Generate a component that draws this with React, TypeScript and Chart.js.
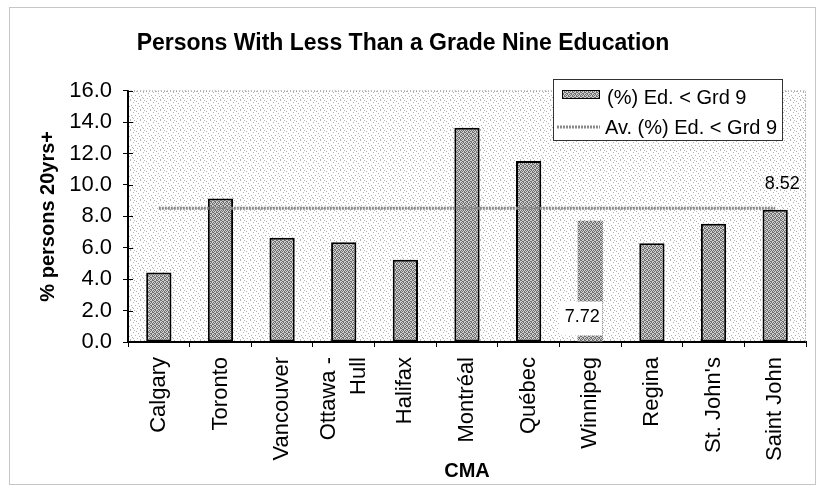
import React, { useEffect, useRef } from 'react';
import { Chart, registerables } from 'chart.js';

Chart.register(...registerables);

// Census metropolitan areas (CMA) and share of persons 20+ with less than grade 9
const cities: (string | string[])[] = [
  'Calgary',
  'Toronto',
  'Vancouver',
  ['Ottawa -', 'Hull'],
  'Halifax',
  'Montréal',
  'Québec',
  'Winnipeg',
  'Regina',
  "St. John's",
  'Saint John',
];
const pctBelowGrade9 = [4.42, 9.13, 6.63, 6.35, 5.23, 13.64, 11.52, 7.72, 6.29, 7.52, 8.41];
const averagePct = [8.52, 8.52, 8.52, 8.52, 8.52, 8.52, 8.52, 8.52, 8.52, 8.52, 8.52];

const yMin = 0;
const yMax = 16;
const yStep = 2;

const chartTitle = 'Persons With Less Than a Grade Nine Education';
const yTitle = '% persons 20yrs+';
const xTitle = 'CMA';
const seriesNames = ['(%) Ed. < Grd 9', 'Av. (%) Ed. < Grd 9'];

const FONT = "'Liberation Sans', Arial, Helvetica, sans-serif";
const SPLIT_INDEX = 3; // the two-line category label
const LABELLED_BAR = 7; // bar whose value label sits at its base

function makeTexture(
  ctx: CanvasRenderingContext2D,
  size: number,
  bg: string,
  ink: string,
  dots: number[][]
): CanvasPattern | string {
  const tile = document.createElement('canvas');
  tile.width = size;
  tile.height = size;
  const g = tile.getContext('2d');
  if (!g) return bg;
  g.fillStyle = bg;
  g.fillRect(0, 0, size, size);
  g.fillStyle = ink;
  for (const [x, y] of dots) g.fillRect(x, y, 1, 1);
  return ctx.createPattern(tile, 'repeat') || bg;
}

export default function App() {
  const canvasRef = useRef<HTMLCanvasElement | null>(null);

  useEffect(() => {
    const canvas = canvasRef.current;
    if (!canvas) return;
    const ctx0 = canvas.getContext('2d');
    if (!ctx0) return;

    // stippled fills for bars and the plot background
    const barFill = makeTexture(ctx0, 4, '#d0d0d0', '#6e6e6e', [
      [0, 0], [1, 0], [3, 1], [2, 1], [1, 2], [0, 3], [2, 3], [3, 2],
    ]);
    const plotFill = makeTexture(ctx0, 10, '#ffffff', '#b4b4b4', [
      [0, 0], [6, 1], [3, 2], [8, 3], [1, 5], [5, 5], [9, 6], [3, 8], [7, 8], [0, 9], [4, 0], [2, 7],
    ]);

    const decorations = {
      id: 'decorations',
      beforeDraw(chart: any) {
        const { ctx, chartArea: a } = chart;
        ctx.save();
        ctx.fillStyle = plotFill;
        ctx.fillRect(a.left, a.top, a.right - a.left, a.bottom - a.top);
        ctx.restore();
      },
      afterDatasetsDraw(chart: any) {
        const { ctx, chartArea: a } = chart;
        ctx.save();

        // dotted plot-area border (top and right)
        ctx.strokeStyle = '#7a7a7a';
        ctx.lineWidth = 1;
        ctx.setLineDash([1, 2]);
        ctx.beginPath();
        ctx.moveTo(a.left, a.top + 0.5);
        ctx.lineTo(a.right - 0.5, a.top + 0.5);
        ctx.lineTo(a.right - 0.5, a.bottom);
        ctx.stroke();
        ctx.setLineDash([]);

        // inner half of the y tick marks
        const ys = chart.scales.y;
        ctx.strokeStyle = '#000';
        ctx.beginPath();
        for (const t of ys.ticks) {
          const py = Math.round(ys.getPixelForValue(t.value)) + 0.5;
          ctx.moveTo(a.left, py);
          ctx.lineTo(a.left + 5, py);
        }
        ctx.stroke();

        // value label at the base of the Winnipeg bar, with white box
        const bar = chart.getDatasetMeta(0).data[LABELLED_BAR];
        if (bar) {
          const base = bar.base;
          ctx.fillStyle = '#ffffff';
          ctx.fillRect(bar.x - 31, base - 40, 43, 34);
          ctx.fillStyle = '#000';
          ctx.font = `18px ${FONT}`;
          ctx.textAlign = 'center';
          ctx.textBaseline = 'middle';
          ctx.fillText(pctBelowGrade9[LABELLED_BAR].toFixed(2), bar.x - 8, base - 24);
        }

        // value label at the end of the average line
        const pts = chart.getDatasetMeta(1).data;
        const last = pts[pts.length - 1];
        if (last) {
          ctx.fillStyle = '#000';
          ctx.font = `18px ${FONT}`;
          ctx.textAlign = 'center';
          ctx.textBaseline = 'middle';
          ctx.fillText(averagePct[averagePct.length - 1].toFixed(2), last.x + 7, last.y - 24);
        }

        // legend box in the upper right of the plot
        const lx = 553;
        const ly = 79;
        const lw = 229;
        const lh = 61;
        ctx.fillStyle = '#ffffff';
        ctx.fillRect(lx, ly, lw, lh);
        ctx.strokeStyle = '#333';
        ctx.lineWidth = 1;
        ctx.strokeRect(lx + 0.5, ly + 0.5, lw, lh);

        ctx.fillStyle = barFill;
        ctx.fillRect(562, 90, 38, 9);
        ctx.strokeStyle = '#000';
        ctx.strokeRect(562.5, 90.5, 37, 8);

        ctx.strokeStyle = '#8a8a8a';
        ctx.lineWidth = 3;
        ctx.setLineDash([2, 1]);
        ctx.beginPath();
        ctx.moveTo(557, 127);
        ctx.lineTo(600, 127);
        ctx.stroke();
        ctx.setLineDash([]);

        ctx.fillStyle = '#000';
        ctx.font = `20px ${FONT}`;
        ctx.textAlign = 'left';
        ctx.textBaseline = 'middle';
        ctx.fillText(seriesNames[0], 607, 98);
        ctx.fillText(seriesNames[1], 605, 128);

        ctx.restore();
      },
      afterDraw(chart: any) {
        const { ctx } = chart;
        ctx.save();

        // two-line category label, centred on its tick
        const xs = chart.scales.x;
        const lines = cities[SPLIT_INDEX] as string[];
        const px = xs.getPixelForTick(SPLIT_INDEX);
        ctx.translate(px, xs.top + 15);
        ctx.rotate(-Math.PI / 2);
        ctx.fillStyle = '#000';
        ctx.font = `22px ${FONT}`;
        ctx.textAlign = 'right';
        ctx.textBaseline = 'middle';
        ctx.fillText(lines[0], 0, -15);
        ctx.fillText(lines[1], 0, 15);
        ctx.restore();

        // outer dotted frame
        ctx.save();
        ctx.strokeStyle = '#8c8c8c';
        ctx.lineWidth = 1;
        ctx.setLineDash([1, 1]);
        ctx.strokeRect(9.5, 7.5, 806, 477);
        ctx.restore();
      },
    };

    const chart = new Chart(canvas, {
      type: 'bar',
      data: {
        labels: cities,
        datasets: [
          {
            type: 'bar',
            label: seriesNames[0],
            data: pctBelowGrade9,
            backgroundColor: barFill as any,
            borderColor: '#000',
            borderWidth: (c: any) => (c.dataIndex === LABELLED_BAR ? 0 : 2),
            borderSkipped: false,
            categoryPercentage: 1,
            barPercentage: 0.41,
            order: 1,
          },
          {
            type: 'line',
            label: seriesNames[1],
            data: averagePct,
            borderColor: '#8a8a8a',
            borderWidth: 3,
            borderDash: [2, 1],
            pointRadius: 0,
            fill: false,
            order: 0,
          },
        ],
      } as any,
      options: {
        responsive: false,
        animation: false,
        layout: { padding: { top: 0, right: 13, bottom: 0, left: 0 } },
        plugins: {
          legend: { display: false },
          tooltip: { enabled: false },
          title: {
            display: true,
            text: chartTitle,
            color: '#000',
            font: { family: FONT, size: 23, weight: 'bold' },
            padding: { top: 30, bottom: 33 },
          },
        },
        scales: {
          x: {
            afterFit: (s: any) => {
              s.height = 149;
            },
            grid: {
              drawOnChartArea: false,
              drawTicks: true,
              tickLength: 5,
              color: '#000',
              offset: true,
            },
            border: { display: true, color: '#000', width: 2 },
            ticks: {
              autoSkip: false,
              maxRotation: 90,
              minRotation: 90,
              padding: 10,
              color: (c: any) => (c.index === SPLIT_INDEX ? 'rgba(0,0,0,0)' : '#000'),
              font: { family: FONT, size: 22 },
            },
            title: {
              display: true,
              text: xTitle,
              color: '#000',
              font: { family: FONT, size: 20, weight: 'bold' },
              padding: { top: 0, bottom: 8 },
            },
          },
          y: {
            min: yMin,
            max: yMax,
            afterFit: (s: any) => {
              s.width = 128;
            },
            grid: {
              drawOnChartArea: false,
              drawTicks: true,
              tickLength: 5,
              color: '#000',
            },
            border: { display: true, color: '#000', width: 2 },
            ticks: {
              stepSize: yStep,
              padding: 11,
              color: '#000',
              font: { family: FONT, size: 22 },
              callback: (v: any) => Number(v).toFixed(1),
            },
            title: {
              display: true,
              text: yTitle,
              color: '#000',
              font: { family: FONT, size: 20, weight: 'bold' },
              padding: { top: 36, bottom: 0 },
            },
          },
        },
      } as any,
      plugins: [decorations],
    });

    return () => chart.destroy();
  }, []);

  return (
    <div style={{ position: 'absolute', left: 0, top: 0, width: 819, height: 491, background: '#fff' }}>
      <canvas ref={canvasRef} width={819} height={491} style={{ display: 'block' }} />
    </div>
  );
}
